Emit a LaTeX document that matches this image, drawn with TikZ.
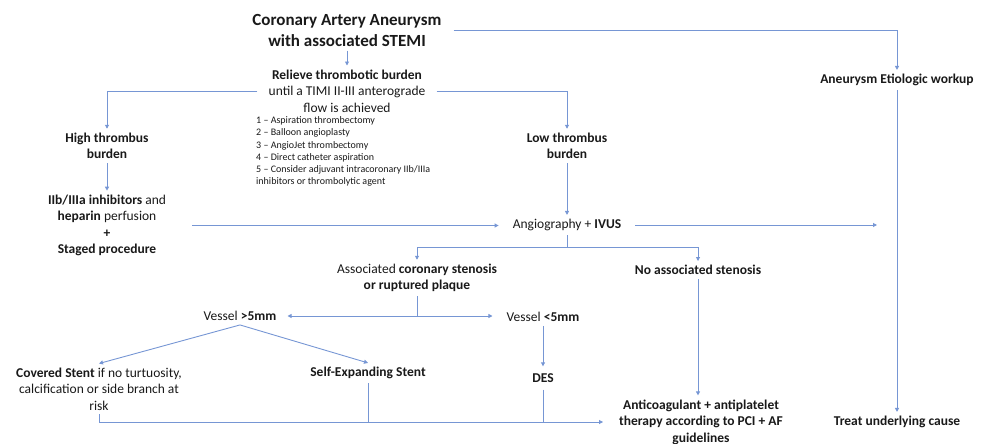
\documentclass[tikz,border=0pt]{standalone}
\usepackage{fontspec}
\setmainfont{Carlito}
\usetikzlibrary{arrows.meta}
\definecolor{flowblue}{RGB}{118,150,212}
\begin{document}
        \begin{tikzpicture}[x=1pt, y=-1pt, >={Triangle[length=4pt, width=4pt]},
            every node/.style={align=center, text=black!90, inner sep=4pt, font=\fontsize{13.5}{16.5}\selectfont},
            link/.style={flowblue, line width=0.9pt},
            hd/.style={font=\fontsize{13.5}{16.5}\selectfont\bfseries}]
            \useasboundingbox (0,0) rectangle (987,444);
            \node (title) [inner xsep=12pt, font=\fontsize{17}{20.5}\selectfont\bfseries] at (347,30.5) {Coronary Artery Aneurysm\\with associated STEMI};
            \node (relieve) [inner xsep=11pt] at (347,91) {\textbf{Relieve thrombotic burden}\\until a TIMI II-III anterograde\\flow is achieved};
            \node (steps) [anchor=north west, align=left, inner sep=0pt, font=\fontsize{10}{12.2}\selectfont] at (256,116.5) {1 – Aspiration thrombectomy\\2 – Balloon angioplasty\\3 – AngioJet thrombectomy\\4 – Direct catheter aspiration\\5 – Consider adjuvant intracoronary IIb/IIIa\\inhibitors or thrombolytic agent};
            \node (high) [hd] at (107,146) {High thrombus\\burden};
            \node (iib) at (107,225.5) {\textbf{IIb/IIIa inhibitors} and\\\textbf{heparin} perfusion\\\textbf{+}\\\textbf{Staged procedure}};
            \node (low) [hd] at (567,146) {Low thrombus\\burden};
            \node (angio) [inner xsep=14pt] at (567,225) {Angiography + \textbf{IVUS}};
            \coordinate (rend) at (877,225);
            \node (etio) [hd] at (897,80) {Aneurysm Etiologic workup};
            \node (treat) [hd] at (897,422) {Treat underlying cause};
            \coordinate (split1) at (567,247);
            \node (assoc) at (417,278) {Associated \textbf{coronary stenosis}\\\textbf{or ruptured plaque}};
            \node (nost) [hd] at (698,270) {No associated stenosis};
            \coordinate (split2) at (417,316);
            \node (vbig) [inner xsep=11pt] at (240,316) {Vessel \textbf{>5mm}};
            \node (vsmall) [inner xsep=14pt] at (543,317) {Vessel \textbf{<5mm}};
            \node (covered) at (99,389) {\textbf{Covered Stent} if no turtuosity,\\calcification or side branch at\\risk};
            \node (selfexp) [hd] at (368,373) {Self-Expanding Stent};
            \node (des) [hd, inner ysep=7pt] at (543,378) {DES};
            \node (anticoag) [hd, inner xsep=16pt] at (701,422) {Anticoagulant + antiplatelet\\therapy according to PCI + AF\\guidelines};
            \draw[link, ->] (title.south) -- (relieve.north);
            \draw[link, ->] (title.east) -| (etio.north);
            \draw[link, ->] (relieve.west) -| (high.north);
            \draw[link, ->] (relieve.east) -| (low.north);
            \draw[link, ->] (high.south) -- (iib.north);
            \draw[link, ->, shorten <=22pt] (iib.east) -- (iib.east -| angio.west);
            \draw[link, ->] (low.south) -- (angio.north);
            \draw[link, ->] (angio.east) -- (rend);
            \draw[link, ->] (etio.south) -- (treat.north);
            \draw[link] (angio.south) -- (split1);
            \draw[link, ->] (split1) -| (assoc.north);
            \draw[link, ->] (split1) -| (nost.north);
            \draw[link] (assoc.south) -- (split2);
            \draw[link, ->] (split2) -- (vbig.east);
            \draw[link, ->] (split2) -- (split2 -| vsmall.west);
            \draw[link, ->] (vbig.south) -- (covered.north);
            \draw[link, ->] (vbig.south) -- (selfexp.north);
            \draw[link, ->] (vsmall.south) -- (des.north);
            \draw[link, ->] (nost.south) -- (nost.south |- anticoag.north);
            \draw[link, ->] (covered.south) |- (anticoag.west);
            \draw[link] (selfexp.south) -- (selfexp.south |- anticoag.west);
            \draw[link] (des.south) -- (des.south |- anticoag.west);
        \end{tikzpicture}
\end{document}
